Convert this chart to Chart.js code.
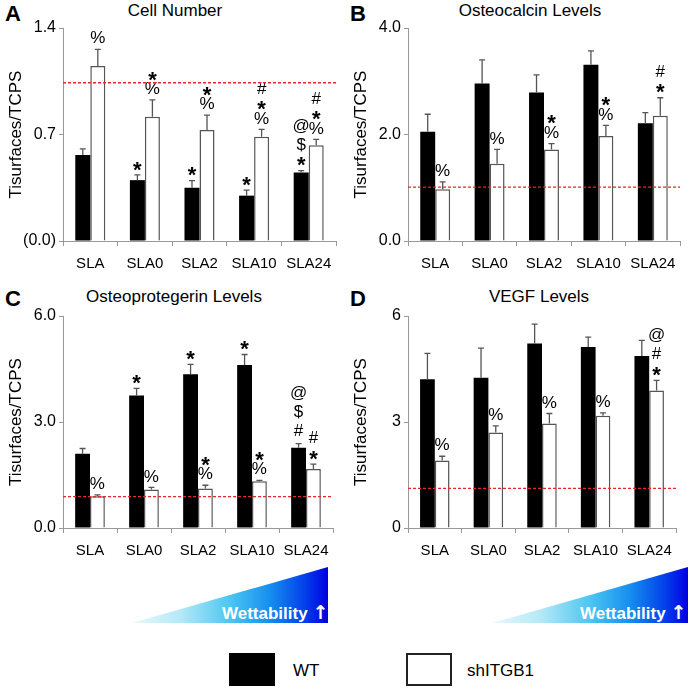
<!DOCTYPE html>
<html>
<head>
<meta charset="utf-8">
<script src="https://cdn.jsdelivr.net/npm/chart.js@4.4.0/dist/chart.umd.min.js"></script>
<style>
body { margin:0; width:690px; height:690px; background:#fff; position:relative; overflow:hidden;
       font-family:"Liberation Sans", Arial, sans-serif; color:#000; }
canvas { position:absolute; }
.letra { position:absolute; font-weight:bold; font-size:22px; line-height:22px; }
.titulo { position:absolute; font-size:17px; line-height:20px; transform:translateX(-50%); white-space:nowrap; }
.cuna { position:absolute; height:56px; width:196px; clip-path:polygon(0 100%, 100% 0, 100% 100%);
        background:linear-gradient(to right, #eaf8fd 0%, #b4e8f7 25%, #4cc6f1 50%, #1690ef 70%, #0340ea 88%, #0000e0 100%); }
.wtxt { position:absolute; color:#fff; font-weight:bold; font-size:17px; line-height:20px; white-space:nowrap; }
.flecha { font-family:"DejaVu Sans", sans-serif; font-weight:bold; font-size:19px; }
.caja { position:absolute; width:46px; height:33px; box-sizing:border-box; }
.leyenda { position:absolute; font-size:17px; line-height:20px; }
</style>
</head>
<body>

<div class="letra" style="left:5px;top:3px">A</div>
<div class="letra" style="left:350px;top:3px">B</div>
<div class="letra" style="left:5px;top:288px">C</div>
<div class="letra" style="left:350px;top:288px">D</div>

<div class="titulo" style="left:175px;top:1px">Cell Number</div>
<div class="titulo" style="left:530px;top:1px">Osteocalcin Levels</div>
<div class="titulo" style="left:174px;top:287px">Osteoprotegerin Levels</div>
<div class="titulo" style="left:539px;top:287px">VEGF Levels</div>

<canvas id="panelA" width="345" height="280" style="left:0;top:0"></canvas>
<canvas id="panelB" width="345" height="280" style="left:345px;top:0"></canvas>
<canvas id="panelC" width="345" height="277" style="left:0;top:290px"></canvas>
<canvas id="panelD" width="345" height="277" style="left:345px;top:290px"></canvas>

<div class="cuna" style="left:132px;top:567px"></div>
<div class="wtxt" style="left:222px;top:602px">Wettability <span class="flecha">&#8593;</span></div>
<div class="cuna" style="left:492px;top:567px"></div>
<div class="wtxt" style="left:580px;top:602px">Wettability <span class="flecha">&#8593;</span></div>

<div class="caja" style="left:229px;top:653px;background:#000"></div>
<div class="leyenda" style="left:293px;top:661px">WT</div>
<div class="caja" style="left:406px;top:653px;background:#fff;border:2px solid #222"></div>
<div class="leyenda" style="left:467px;top:661px">shITGB1</div>

<script>
const categorias = ["SLA", "SLA0", "SLA2", "SLA10", "SLA24"];

// A - Cell Number
const celWT = [0.565, 0.40, 0.35, 0.298, 0.451];
const celWTErr = [0.04, 0.034, 0.047, 0.037, 0.011];
const celSh = [1.15, 0.817, 0.73, 0.686, 0.629];
const celShErr = [0.11, 0.11, 0.098, 0.048, 0.039];
const celRef = 1.04;
const celTicks = [0, 0.7, 1.4];
const celTickTxt = ["(0.0)", "0.7", "1.4"];
const celWTMarcas = [[], ["*"], ["*"], ["*"], ["@", "$", "*"]];
const celShMarcas = [["%"], ["*", "%"], ["*", "%"], ["#", "*", "%"], ["#", "*", "%"]];

// B - Osteocalcin
const ocWT = [2.05, 2.96, 2.79, 3.31, 2.21];
const ocWTErr = [0.33, 0.44, 0.33, 0.26, 0.20];
const ocSh = [0.97, 1.45, 1.72, 1.97, 2.35];
const ocShErr = [0.14, 0.27, 0.11, 0.20, 0.34];
const ocRef = 1.01;
const ocTicks = [0, 2, 4];
const ocTickTxt = ["0.0", "2.0", "4.0"];
const ocWTMarcas = [[], [], [], [], []];
const ocShMarcas = [["%"], ["%"], ["*", "%"], ["*", "%"], ["#", "*"]];

// C - Osteoprotegerin
const opgWT = [2.10, 3.75, 4.35, 4.61, 2.27];
const opgWTErr = [0.15, 0.20, 0.28, 0.30, 0.12];
const opgSh = [0.90, 1.09, 1.12, 1.32, 1.67];
const opgShErr = [0.04, 0.06, 0.09, 0.03, 0.14];
const opgRef = 0.89;
const opgTicks = [0, 3, 6];
const opgTickTxt = ["0.0", "3.0", "6.0"];
const opgWTMarcas = [[], ["*"], ["*"], ["*"], ["@", "$", "#"]];
const opgShMarcas = [["%"], ["%"], ["*", "%"], ["*", "%"], ["#", "*"]];

// D - VEGF
const vegfWT = [4.21, 4.25, 5.22, 5.12, 4.87];
const vegfWTErr = [0.73, 0.84, 0.55, 0.28, 0.44];
const vegfSh = [1.91, 2.70, 2.96, 3.18, 3.89];
const vegfShErr = [0.12, 0.19, 0.28, 0.08, 0.29];
const vegfRef = 1.12;
const vegfTicks = [0, 3, 6];
const vegfTickTxt = ["0", "3", "6"];
const vegfWTMarcas = [[], [], [], [], []];
const vegfShMarcas = [["%"], ["%"], ["%"], ["%"], ["@", "#", "*"]];

const fuente = "'Liberation Sans', Arial, sans-serif";

// alto que ocupa cada simbolo al apilarlos
function altoMarca(m) {
    if (m === "*") return 13;
    if (m === "%") return 15;
    return 19;
}

// error bars, red reference line and significance marks
const extras = {
    id: "extras",
    afterDatasetsDraw(chart, args, opts) {
        const ctx = chart.ctx;
        const y = chart.scales.y;
        const area = chart.chartArea;

        chart.data.datasets.forEach((ds, i) => {
            let meta = chart.getDatasetMeta(i);
            meta.data.forEach((bar, j) => {
                let yTop = y.getPixelForValue(ds.data[j] + ds.err[j]);
                ctx.save();
                ctx.strokeStyle = "#555";
                ctx.lineWidth = 1.3;
                ctx.beginPath();
                ctx.moveTo(bar.x, bar.y);
                ctx.lineTo(bar.x, yTop);
                ctx.moveTo(bar.x - 3, yTop);
                ctx.lineTo(bar.x + 3, yTop);
                ctx.stroke();

                let marcas = ds.marcas[j];
                let base = yTop - 3;
                ctx.fillStyle = "#000";
                ctx.textAlign = "center";
                ctx.textBaseline = "middle";
                for (let k = marcas.length - 1; k >= 0; k--) {
                    let m = marcas[k];
                    let h = altoMarca(m);
                    let yc = base - h / 2;
                    if (m === "*") {
                        ctx.font = "bold 22px " + fuente;
                        ctx.fillText(m, bar.x, yc + 5);
                    } else {
                        ctx.font = "17px " + fuente;
                        ctx.fillText(m, bar.x, yc);
                    }
                    base -= h;
                }
                ctx.restore();
            });
        });

        let yr = y.getPixelForValue(opts.ref);
        ctx.save();
        ctx.strokeStyle = "#e8262b";
        ctx.lineWidth = 1.3;
        ctx.setLineDash([3, 2]);
        ctx.beginPath();
        ctx.moveTo(area.left, yr);
        ctx.lineTo(area.right, yr);
        ctx.stroke();
        ctx.restore();
    }
};

function crearPanel(id, p) {
    return new Chart(document.getElementById(id), {
        type: "bar",
        data: {
            labels: categorias,
            datasets: [{
                label: "WT",
                data: p.wt,
                err: p.wtErr,
                marcas: p.wtMarcas,
                backgroundColor: "#000",
                borderWidth: 0,
                barPercentage: 1,
                categoryPercentage: 0.55
            }, {
                label: "shITGB1",
                data: p.sh,
                err: p.shErr,
                marcas: p.shMarcas,
                backgroundColor: "#fff",
                borderColor: "#555",
                borderWidth: 1.5,
                barPercentage: 1,
                categoryPercentage: 0.55
            }]
        },
        options: {
            responsive: false,
            animation: false,
            layout: { padding: { top: p.top, right: p.right, left: 0, bottom: 0 } },
            plugins: {
                legend: { display: false },
                tooltip: { enabled: false },
                extras: { ref: p.ref }
            },
            scales: {
                x: {
                    grid: { drawOnChartArea: false, drawTicks: true, tickLength: 5, color: "#999", offset: true },
                    border: { color: "#999" },
                    ticks: { color: "#000", font: { size: 15, family: fuente }, padding: 9 },
                    afterFit: function (s) { s.height = 39; }
                },
                y: {
                    min: 0,
                    max: p.ticks[p.ticks.length - 1],
                    afterBuildTicks: function (s) { s.ticks = p.ticks.map(v => ({ value: v })); },
                    grid: { drawOnChartArea: false, tickLength: 4, color: "#999" },
                    border: { color: "#999" },
                    ticks: {
                        color: "#000",
                        font: { size: 16, family: fuente },
                        padding: 3,
                        callback: function (v, i) { return p.tickTxt[i]; }
                    },
                    title: {
                        display: true,
                        text: "Tisurfaces/TCPS",
                        color: "#000",
                        font: { size: 17, family: fuente },
                        padding: { top: 6, bottom: 0 }
                    },
                    afterFit: function (s) { s.width = 63; }
                }
            }
        },
        plugins: [extras]
    });
}

crearPanel("panelA", { wt: celWT, wtErr: celWTErr, sh: celSh, shErr: celShErr, ref: celRef,
    ticks: celTicks, tickTxt: celTickTxt, wtMarcas: celWTMarcas, shMarcas: celShMarcas, top: 28, right: 9 });
crearPanel("panelB", { wt: ocWT, wtErr: ocWTErr, sh: ocSh, shErr: ocShErr, ref: ocRef,
    ticks: ocTicks, tickTxt: ocTickTxt, wtMarcas: ocWTMarcas, shMarcas: ocShMarcas, top: 28, right: 10 });
crearPanel("panelC", { wt: opgWT, wtErr: opgWTErr, sh: opgSh, shErr: opgShErr, ref: opgRef,
    ticks: opgTicks, tickTxt: opgTickTxt, wtMarcas: opgWTMarcas, shMarcas: opgShMarcas, top: 26, right: 12 });
crearPanel("panelD", { wt: vegfWT, wtErr: vegfWTErr, sh: vegfSh, shErr: vegfShErr, ref: vegfRef,
    ticks: vegfTicks, tickTxt: vegfTickTxt, wtMarcas: vegfWTMarcas, shMarcas: vegfShMarcas, top: 26, right: 14 });
</script>
</body>
</html>
